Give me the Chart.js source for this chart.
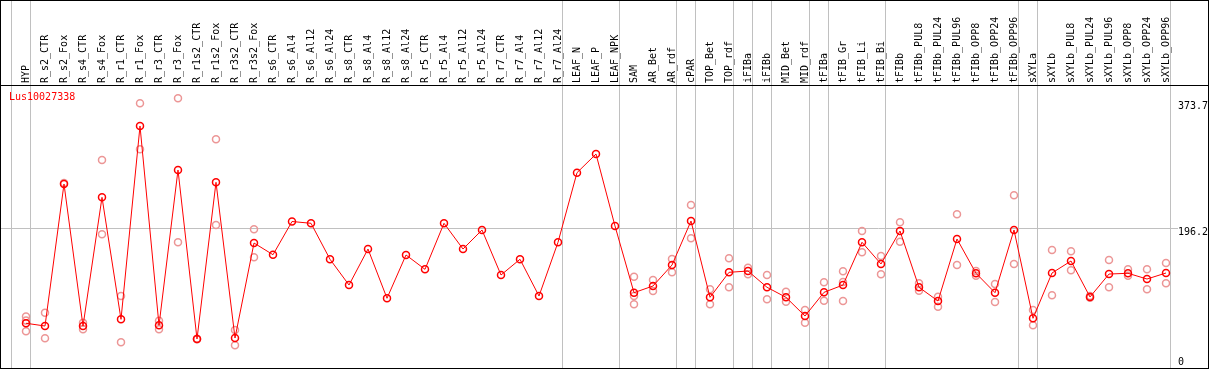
<!DOCTYPE html>
<html><head><meta charset="utf-8">
<script src="https://cdn.jsdelivr.net/npm/chart.js@4/dist/chart.umd.min.js"></script>
<style>
html,body{margin:0;padding:0;background:#fff;}
#wrap{position:relative;width:1209px;height:370px;}
#frame{position:absolute;left:0;top:0;width:1209px;height:369px;box-sizing:border-box;border:1px solid #000;pointer-events:none;}
#hdr{position:absolute;left:0;top:85px;width:1209px;height:1px;background:#000;pointer-events:none;}
</style></head>
<body>
<div id="wrap">
<canvas id="c" width="1209" height="370"></canvas>
<div id="frame"></div>
<div id="hdr"></div>
</div>
<script>
const seriesName = 'Lus10027338';
const categories = ['HYP','R_s2_CTR','R_s2_Fox','R_s4_CTR','R_s4_Fox','R_r1_CTR','R_r1_Fox','R_r3_CTR','R_r3_Fox','R_r1s2_CTR','R_r1s2_Fox','R_r3s2_CTR','R_r3s2_Fox',
 'R_s6_CTR','R_s6_Al4','R_s6_Al12','R_s6_Al24','R_s8_CTR','R_s8_Al4','R_s8_Al12','R_s8_Al24','R_r5_CTR','R_r5_Al4','R_r5_Al12','R_r5_Al24','R_r7_CTR','R_r7_Al4','R_r7_Al12','R_r7_Al24',
 'LEAF_N','LEAF_P','LEAF_NPK','SAM','AR_Bet','AR_rdf','cPAR','TOP_Bet','TOP_rdf','iFIBa','iFIBb','MID_Bet','MID_rdf','tFIBa','tFIB_Gr','tFIB_Li','tFIB_Bi',
 'tFIBb','tFIBb_PUL8','tFIBb_PUL24','tFIBb_PUL96','tFIBb_OPP8','tFIBb_OPP24','tFIBb_OPP96','sXYLa','sXYLb','sXYLb_PUL8','sXYLb_PUL24','sXYLb_PUL96','sXYLb_OPP8','sXYLb_OPP24','sXYLb_OPP96'];
const means = [56.7,52.7,260.6,52.7,241.1,62.5,345.5,53.7,281.1,33.7,263.1,35.1,174.2,
 157.1,205.7,203.1,150.4,112.7,165.4,93.3,156.7,135.7,203.1,165.4,193.3,127.4,150.4,96.6,175.3,
 277.2,304.5,199.1,101.5,111.3,142.0,206.4,94.7,131.3,133.2,109.4,94.7,67.3,102.0,112.7,175.3,143.5,
 191.8,109.4,89.3,180.1,129.9,101.5,193.3,64.0,130.3,147.9,95.2,128.8,129.9,121.5,130.3];
const rep1 = [66.6,72.2,262.0,57.5,295.7,96.6,378.8,60.5,386.1,34.1,326.1,46.9,194.3,
 null,null,null,null,null,null,null,null,null,null,null,null,null,null,null,null,
 null,null,null,124.9,120.1,150.8,229.9,106.4,151.8,138.1,127.4,102.9,76.1,116.7,132.8,191.8,155.2,
 204.5,115.2,95.6,216.2,133.2,114.2,244.1,76.1,164.0,162.1,96.5,149.3,135.7,135.7,145.0];
const rep2 = [44.9,34.7,null,47.9,187.0,28.8,311.4,47.9,175.3,33.2,200.6,24.5,153.3,
 null,null,null,null,null,null,null,null,null,null,null,null,null,null,null,null,
 null,null,null,84.5,104.0,131.3,181.1,84.5,109.4,128.4,91.8,88.3,57.5,89.7,89.3,160.6,128.4,
 176.1,104.4,81.0,142.0,126.4,87.8,143.5,53.7,97.7,134.3,94.0,109.4,126.4,106.4,115.2];
const rep3 = [60.7,null,null,null,null,null,null,null,null,null,null,null,null,
 null,null,null,null,null,null,null,null,null,null,null,null,null,null,null,null,
 null,null,null,96.6,null,null,null,null,null,null,null,null,null,null,117.1,null,null,
 null,null,null,null,null,null,null,null,null,null,null,null,null,null,null];
const groupEnds = [-1,0,28,31,34,35,37,38,39,41,42,45,52,53,60];
const yTickValues = [0,196.2,373.7];

const SEP_OFF = 0.2263;
const MID_TICK = 196.2;
const toXY = arr => arr.map((v,i)=> v===null ? null : {x:i, y:v}).filter(p=>p);
const repStyle = {showLine:false, pointRadius:3.5, pointBorderWidth:1.5, pointBorderColor:'rgba(236,150,150,1)', pointBackgroundColor:'rgba(0,0,0,0)', order:2};
const FAMILY = '"DejaVu Sans Mono", monospace';

Chart.defaults.font.family = FAMILY;
Chart.defaults.font.size = 10;
Chart.defaults.color = '#000';

const titlePlugin = {id:'seriesTitle', afterDatasetsDraw(chart){
  const {ctx, chartArea} = chart; ctx.save();
  ctx.font = '10px ' + FAMILY; ctx.fillStyle = '#ff0000'; ctx.textBaseline = 'middle'; ctx.textAlign='left';
  ctx.fillText(seriesName, chartArea.left + 8, chartArea.top + 12); ctx.restore(); }};

new Chart(document.getElementById('c'), {
  type:'scatter',
  data:{datasets:[
    {label:seriesName, data:toXY(means), showLine:true, borderColor:'#ff0000', borderWidth:1, pointRadius:3.5, pointBorderWidth:1.5, pointBorderColor:'#ff0000', pointBackgroundColor:'rgba(0,0,0,0)', order:0},
    Object.assign({label:'r1', data:toXY(rep1)}, repStyle),
    Object.assign({label:'r2', data:toXY(rep2)}, repStyle),
    Object.assign({label:'r3', data:toXY(rep3)}, repStyle)
  ]},
  options:{
    responsive:false, animation:false, events:[], devicePixelRatio:1,
    layout:{autoPadding:false, padding:{left:1,right:1,top:0,bottom:2}},
    plugins:{legend:{display:false}, tooltip:{enabled:false}, title:{display:false}},
    scales:{
      x:{type:'linear', position:'top', min:-25/19, max:-25/19 + 1170/19,
        afterBuildTicks(s){ const t = categories.map((c,i)=>({value:i})); groupEnds.forEach(g=>t.push({value:g+SEP_OFF})); s.ticks = t; },
        afterFit(s){ s.height = 85; s.paddingLeft = 0; s.paddingRight = 0; s.paddingTop = 0; s.paddingBottom = 0; },
        border:{display:false},
        grid:{drawTicks:true, tickLength:85, lineWidth:1,
          color:c => (c.tick && !Number.isInteger(c.tick.value)) ? '#c0c0c0' : 'rgba(0,0,0,0)',
          tickColor:c => (c.tick && !Number.isInteger(c.tick.value)) ? '#c0c0c0' : 'rgba(0,0,0,0)'},
        ticks:{autoSkip:false, minRotation:90, maxRotation:90, padding:-83, labelOffset:12, color:'#000',
          callback:v => Number.isInteger(v) ? categories[v] : ''}
      },
      y:{type:'linear', position:'right', min:-8.785, max:405.58,
        afterBuildTicks(s){ s.ticks = yTickValues.map(v=>({value:v})); },
        afterFit(s){ s.width = 37; s.paddingTop = 0; s.paddingBottom = 0; s.paddingLeft = 0; s.paddingRight = 0; },
        border:{display:false},
        grid:{drawTicks:true, tickLength:7,
          color:c => (c.tick && c.tick.value===MID_TICK) ? '#c0c0c0' : 'rgba(0,0,0,0)',
          tickColor:c => (c.tick && c.tick.value===MID_TICK) ? '#c0c0c0' : 'rgba(0,0,0,0)'},
        ticks:{padding:0, color:'#000',
          font:c => ({family:FAMILY, size:10, lineHeight:(c.tick && c.tick.value===MID_TICK) ? 0.9 : 1.2}),
          callback:v => v===MID_TICK ? ['', String(v)] : String(v)}
      }
    }
  },
  plugins:[titlePlugin]
});
</script>
</body></html>
